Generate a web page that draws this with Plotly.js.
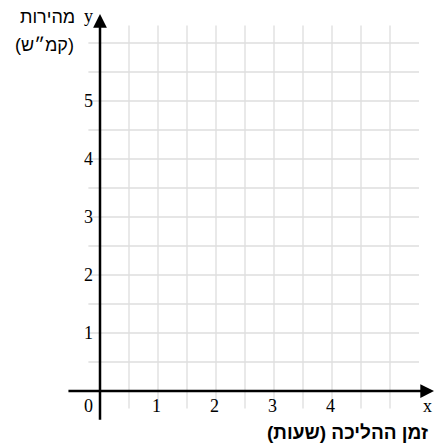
<!DOCTYPE html>
<html>
<head>
<meta charset="utf-8">
<script src="https://cdn.plot.ly/plotly-3.0.1.min.js"></script>
<style>
  html, body { margin: 0; padding: 0; background: #fff; }
  #chart { width: 434px; height: 444px; }
</style>
</head>
<body>
<div id="chart"></div>
<script>
// tick labels on the axes
var xTicks = [1, 2, 3, 4];
var yTicks = [1, 2, 3, 4, 5];

// grid lines (every half unit) and how far they reach
var xGrid = [0.5, 1, 1.5, 2, 2.5, 3, 3.5, 4, 4.5, 5];
var yGrid = [0.5, 1, 1.5, 2, 2.5, 3, 3.5, 4, 4.5, 5, 5.5, 6];
var xGridSpan = [-0.2, 5.5];
var yGridSpan = [-0.3, 6.3];

// axis titles
var xTitle = 'זמן ההליכה (שעות)';
var yTitle1 = 'מהירות';
var yTitle2 = '(קמ״ש)';

var numFont = {family: 'Liberation Serif, serif', size: 18, color: '#000'};
var hebFont = {family: 'Liberation Sans, Arial, sans-serif', size: 18, color: '#000'};

// grid as one line trace with gaps
var gx = [], gy = [];
xGrid.forEach(function (v) { gx.push(v, v, null); gy.push(yGridSpan[0], yGridSpan[1], null); });
yGrid.forEach(function (v) { gx.push(xGridSpan[0], xGridSpan[1], null); gy.push(v, v, null); });
var grid = {x: gx, y: gy, type: 'scatter', mode: 'lines', hoverinfo: 'skip',
  line: {color: '#dedede', width: 1.3}};

var annotations = [];

xTicks.forEach(function (v) {
  annotations.push({x: v, y: 0, text: String(v), showarrow: false, xshift: -1.5, yshift: -15, font: numFont});
});
yTicks.forEach(function (v) {
  annotations.push({x: 0, y: v, text: String(v), showarrow: false, xshift: -12, font: numFont});
});
annotations.push({x: 0, y: 0, text: '0', showarrow: false, xshift: -12, yshift: -15, font: numFont});
annotations.push({x: 5.655, y: 0, text: 'x', showarrow: false, yshift: -15, font: numFont});
annotations.push({x: -0.19, y: 6.46, text: 'y', showarrow: false, font: numFont});

// axis arrows
annotations.push({x: 5.76, y: 0, ax: -0.57, ay: 0, axref: 'x', ayref: 'y', text: '',
  showarrow: true, arrowhead: 2, arrowsize: 1.1, arrowwidth: 2.5, arrowcolor: '#000', standoff: 0});
annotations.push({x: 0, y: 6.5, ax: 0, ay: -0.52, axref: 'x', ayref: 'y', text: '',
  showarrow: true, arrowhead: 2, arrowsize: 1.1, arrowwidth: 2.5, arrowcolor: '#000', standoff: 0});

// titles
annotations.push({x: -0.4, y: 6.44, text: yTitle1, showarrow: false, font: hebFont, xanchor: 'right'});
annotations.push({x: -0.41, y: 5.96, text: yTitle2, showarrow: false, font: hebFont, xanchor: 'right'});
annotations.push({x: 5.69, y: -0.72, text: '<b>' + xTitle + '</b>', showarrow: false,
  font: {family: hebFont.family, size: 19, color: '#000'}, xanchor: 'right'});

var layout = {
  width: 434,
  height: 444,
  margin: {l: 0, r: 0, t: 0, b: 0, pad: 0},
  paper_bgcolor: '#fff',
  plot_bgcolor: '#fff',
  showlegend: false,
  xaxis: {range: [-100 / 58, 334 / 58], showgrid: false, zeroline: false,
    showline: false, showticklabels: false, ticks: '', fixedrange: true},
  yaxis: {range: [-53 / 58, 391 / 58], showgrid: false, zeroline: false,
    showline: false, showticklabels: false, ticks: '', fixedrange: true},
  annotations: annotations
};

Plotly.newPlot('chart', [grid], layout, {displayModeBar: false, staticPlot: true});
</script>
</body>
</html>
